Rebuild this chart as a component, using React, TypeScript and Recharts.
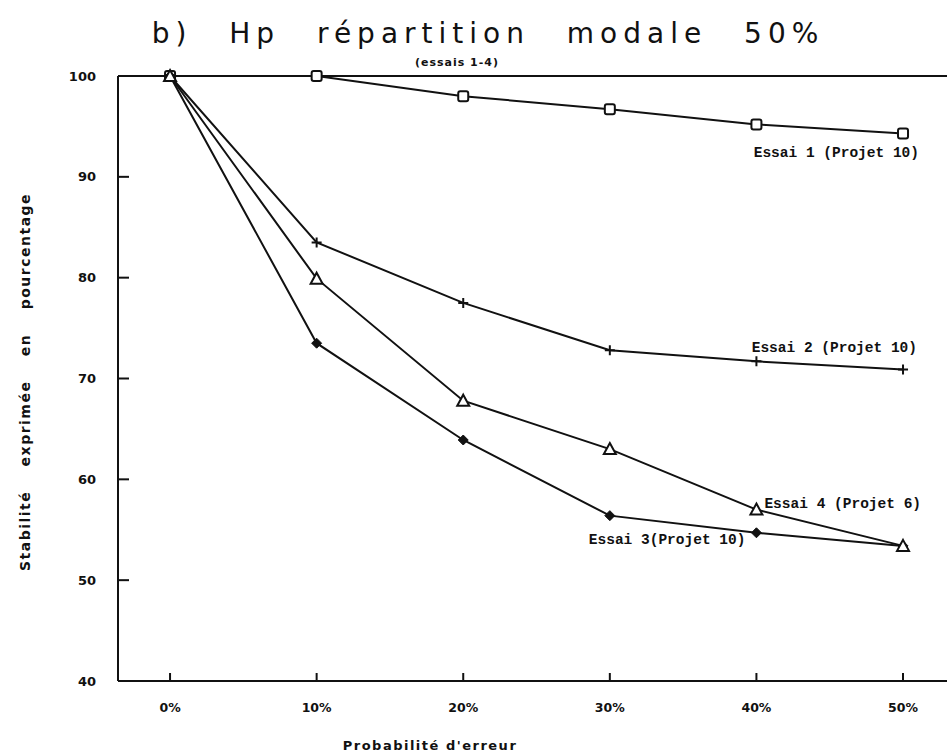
import { LineChart, Line, XAxis, YAxis, ReferenceLine, LabelList } from "recharts";

// taux d'erreur (%) et stabilité (%)
const probabilities = [0, 10, 20, 30, 40, 50];
const essai1 = [100, 100, 98.0, 96.7, 95.2, 94.3];
const essai2 = [100, 83.5, 77.5, 72.8, 71.7, 70.9];
const essai3 = [100, 73.5, 63.9, 56.4, 54.7, 53.4];
const essai4 = [100, 79.9, 67.8, 63.0, 57.0, 53.4];
const yTicks = [40, 50, 60, 70, 80, 90, 100];

const data = probabilities.map((p, i) => ({
  p,
  essai1: essai1[i],
  essai2: essai2[i],
  essai3: essai3[i],
  essai4: essai4[i],
}));

const INK = "#111";
const MONO = "'Liberation Mono', 'DejaVu Sans Mono', monospace";
const SANS = "'DejaVu Sans', sans-serif";

const YTick = ({ x, y, payload }: any) => (
  <g>
    <line x1={x} y1={y} x2={x + 11} y2={y} stroke={INK} strokeWidth={2} />
    <text x={x - 22} y={y} dy="0.35em" textAnchor="end" fontFamily={SANS} fontWeight="bold" fontSize={13} fill={INK}>
      {payload.value}
    </text>
  </g>
);

const XTick = ({ x, y, payload }: any) => (
  <g>
    <line x1={x} y1={y} x2={x} y2={y - 8} stroke={INK} strokeWidth={2} />
    <text x={x} y={y + 27} dy="0.35em" textAnchor="middle" fontFamily={SANS} fontWeight="bold" fontSize={12.5} fill={INK}>
      {payload.value}%
    </text>
  </g>
);

const Square = ({ cx, cy, index }: any) => (
  <rect key={index} x={cx - 5} y={cy - 5} width={10} height={10} rx={2} fill="#fff" stroke={INK} strokeWidth={2} />
);
const Plus = ({ cx, cy, index }: any) => (
  <path key={index} d={`M${cx - 5},${cy}H${cx + 5}M${cx},${cy - 5}V${cy + 5}`} stroke={INK} strokeWidth={2} />
);
const Diamond = ({ cx, cy, index }: any) => (
  <path key={index} d={`M${cx},${cy - 5}L${cx + 5},${cy}L${cx},${cy + 5}L${cx - 5},${cy}Z`} fill={INK} stroke={INK} strokeWidth={1} />
);
const Triangle = ({ cx, cy, index }: any) => (
  <path key={index} d={`M${cx},${cy - 6}L${cx + 6},${cy + 5}L${cx - 6},${cy + 5}Z`} fill="#fff" stroke={INK} strokeWidth={2} />
);

const seriesLabel =
  (text: string, at: number, dx: number, dy: number, anchor: "start" | "end") =>
  (props: any) => {
    if (props.index !== at) return null;
    return (
      <text
        x={props.x + dx}
        y={props.y + dy}
        dy="0.35em"
        textAnchor={anchor}
        fontFamily={MONO}
        fontWeight="bold"
        fontSize={14.5}
        fill={INK}
      >
        {text}
      </text>
    );
  };

export default function App() {
  return (
    <div style={{ position: "absolute", left: 0, top: 0, width: 947, height: 755, background: "#fff" }}>
      <LineChart width={947} height={755} data={data} margin={{ top: 76, right: 0, bottom: 0, left: 0 }}>
        <XAxis
          dataKey="p"
          type="number"
          domain={[-3.55, 53]}
          ticks={probabilities}
          height={74}
          tickSize={0}
          tickMargin={0}
          tick={<XTick />}
          axisLine={{ stroke: INK, strokeWidth: 2 }}
          allowDataOverflow
        />
        <YAxis
          type="number"
          domain={[40, 100]}
          ticks={yTicks}
          width={118}
          tickSize={0}
          tickMargin={0}
          tick={<YTick />}
          axisLine={{ stroke: INK, strokeWidth: 2 }}
        />
        <ReferenceLine y={100} stroke={INK} strokeWidth={2} />
        <Line dataKey="essai1" type="linear" stroke={INK} strokeWidth={2} dot={Square} isAnimationActive={false}>
          <LabelList content={seriesLabel("Essai 1 (Projet 10)", 5, 16, 18, "end")} />
        </Line>
        <Line dataKey="essai2" type="linear" stroke={INK} strokeWidth={2} dot={Plus} isAnimationActive={false}>
          <LabelList content={seriesLabel("Essai 2 (Projet 10)", 5, 14, -23, "end")} />
        </Line>
        <Line dataKey="essai3" type="linear" stroke={INK} strokeWidth={2} dot={Diamond} isAnimationActive={false}>
          <LabelList content={seriesLabel("Essai 3(Projet 10)", 4, -11, 6, "end")} />
        </Line>
        <Line dataKey="essai4" type="linear" stroke={INK} strokeWidth={2} dot={Triangle} isAnimationActive={false}>
          <LabelList content={seriesLabel("Essai 4 (Projet 6)", 4, 8, -7, "start")} />
        </Line>
      </LineChart>
      <svg width={947} height={755} style={{ position: "absolute", left: 0, top: 0, pointerEvents: "none" }}>
        <text x={488} y={33} dy="0.35em" textAnchor="middle" fontFamily={SANS} fontSize={28} letterSpacing={6} wordSpacing={22} fill={INK}>
          b) Hp répartition modale 50%
        </text>
        <text x={457} y={62} dy="0.35em" textAnchor="middle" fontFamily={SANS} fontWeight="bold" fontSize={11} letterSpacing={1} fill={INK}>
          (essais 1-4)
        </text>
        <text x={430} y={745} dy="0.35em" textAnchor="middle" fontFamily={SANS} fontWeight="bold" fontSize={13} letterSpacing={1.5} fill={INK}>
          Probabilité d'erreur
        </text>
        <text
          transform="translate(25,382) rotate(-90)"
          dy="0.35em"
          textAnchor="middle"
          fontFamily={SANS}
          fontWeight="bold"
          fontSize={14}
          letterSpacing={1.5}
          wordSpacing={18}
          fill={INK}
        >
          Stabilité exprimée en pourcentage
        </text>
      </svg>
    </div>
  );
}
